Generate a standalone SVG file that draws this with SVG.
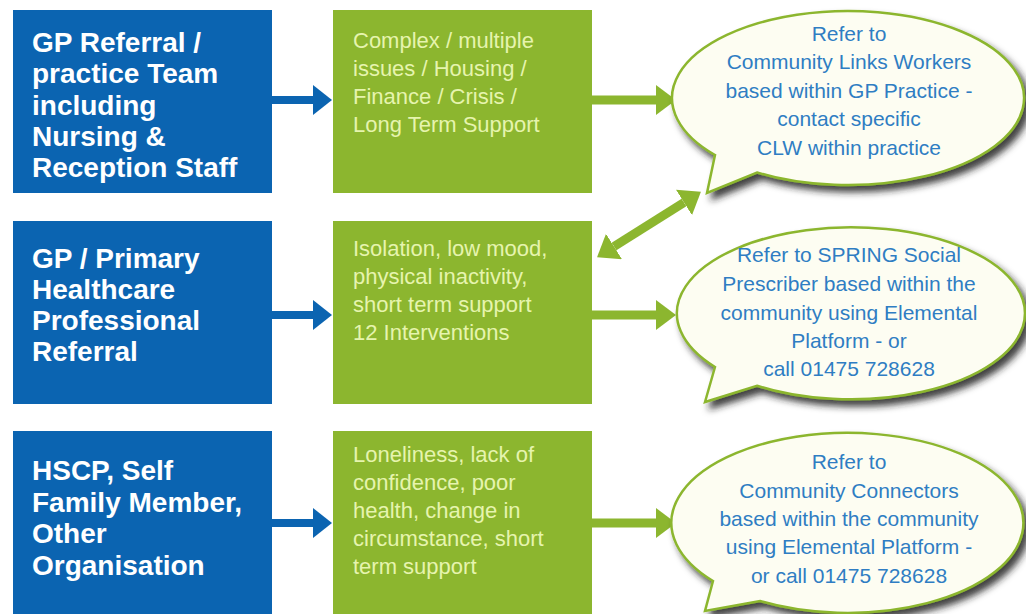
<svg xmlns="http://www.w3.org/2000/svg" width="1026" height="614" viewBox="0 0 1026 614">
<style>
.src{fill:#0b64b1}
.cat{fill:#8cb62f}
.st{font-family:"Liberation Sans",Arial,sans-serif;font-weight:bold;font-size:28px;fill:#ffffff}
.ct{font-family:"Liberation Sans",Arial,sans-serif;font-size:22px;fill:#e6f4ae}
.bub{fill:#fdfdf2;stroke:#8cb62f;stroke-width:2.5;filter:url(#sh)}
.bt{font-family:"Liberation Sans",Arial,sans-serif;font-size:21px;fill:#2f7dc3;text-anchor:middle}
.ba{stroke:#0b64b1;stroke-width:8;fill:none}
.ga{stroke:#8cb62f;stroke-width:9;fill:none}
</style>
<defs>
<filter id="sh" x="-10%" y="-10%" width="125%" height="130%">
<feDropShadow dx="5" dy="6" stdDeviation="3.5" flood-color="#1a1a1a" flood-opacity="0.85"/>
</filter>
<marker id="bh" markerUnits="userSpaceOnUse" markerWidth="19" markerHeight="30" refX="0" refY="15" orient="auto">
<path d="M0,0 L19,15 L0,30 Z" fill="#0b64b1"/>
</marker>
<marker id="gh" markerUnits="userSpaceOnUse" markerWidth="20" markerHeight="30" refX="0" refY="15" orient="auto-start-reverse">
<path d="M0,0 L20,15 L0,30 Z" fill="#8cb62f"/>
</marker>
</defs>
<rect width="1026" height="614" fill="#ffffff"/>

<g id="src1"><rect class="src" x="13" y="10" width="259" height="183"/>
<text class="st" x="32" y="52">GP Referral /</text>
<text class="st" x="32" y="83">practice Team</text>
<text class="st" x="32" y="115">including</text>
<text class="st" x="32" y="146">Nursing &amp;</text>
<text class="st" x="32" y="177">Reception Staff</text></g>

<g id="src2"><rect class="src" x="13" y="221" width="259" height="183"/>
<text class="st" x="32" y="268">GP / Primary</text>
<text class="st" x="32" y="299">Healthcare</text>
<text class="st" x="32" y="330">Professional</text>
<text class="st" x="32" y="361">Referral</text></g>

<g id="src3"><rect class="src" x="13" y="431" width="259" height="190"/>
<text class="st" x="32" y="480">HSCP, Self</text>
<text class="st" x="32" y="512">Family Member,</text>
<text class="st" x="32" y="543">Other</text>
<text class="st" x="32" y="575">Organisation</text></g>

<g id="cat1"><rect class="cat" x="333" y="10" width="259" height="183"/>
<text class="ct" x="353" y="48">Complex / multiple</text>
<text class="ct" x="353" y="76">issues / Housing /</text>
<text class="ct" x="353" y="104">Finance / Crisis  /</text>
<text class="ct" x="353" y="132">Long Term Support</text></g>

<g id="cat2"><rect class="cat" x="333" y="221" width="259" height="183"/>
<text class="ct" x="353" y="256">Isolation, low mood,</text>
<text class="ct" x="353" y="284">physical inactivity,</text>
<text class="ct" x="353" y="312">short term support</text>
<text class="ct" x="353" y="340">12 Interventions</text></g>

<g id="cat3"><rect class="cat" x="333" y="431" width="259" height="190"/>
<text class="ct" x="353" y="462">Loneliness, lack of</text>
<text class="ct" x="353" y="490">confidence, poor</text>
<text class="ct" x="353" y="518">health, change in</text>
<text class="ct" x="353" y="546">circumstance, short</text>
<text class="ct" x="353" y="574">term support</text></g>

<g id="connectors">
<line class="ba" x1="272" y1="100" x2="313" y2="100" marker-end="url(#bh)"/>
<line class="ba" x1="272" y1="315" x2="313" y2="315" marker-end="url(#bh)"/>
<line class="ba" x1="272" y1="523" x2="313" y2="523" marker-end="url(#bh)"/>
<line class="ga" x1="592" y1="100" x2="656" y2="100" marker-end="url(#gh)"/>
<line class="ga" x1="592" y1="315" x2="656" y2="315" marker-end="url(#gh)"/>
<line class="ga" x1="592" y1="523" x2="656" y2="523" marker-end="url(#gh)"/>
<line class="ga" x1="614" y1="246.5" x2="684" y2="202.5" stroke-width="8" marker-start="url(#gh)" marker-end="url(#gh)"/>
</g>

<g id="bubble1">
<path class="bub" d="M715,155 L707,193 L757,172.5 A176 87 0 1 0 715,155 Z"/>
<text class="bt" x="849" y="41">Refer to</text>
<text class="bt" x="849" y="69">Community Links Workers</text>
<text class="bt" x="849" y="98">based within GP Practice -</text>
<text class="bt" x="849" y="126">contact specific</text>
<text class="bt" x="849" y="155">CLW within practice</text></g>

<g id="bubble2">
<path class="bub" d="M715,367 L705,402 L757,385.7 A174 86 0 1 0 715,367 Z"/>
<text class="bt" x="849" y="262">Refer to SPRING Social</text>
<text class="bt" x="849" y="291">Prescriber based within the</text>
<text class="bt" x="849" y="320">community using Elemental</text>
<text class="bt" x="849" y="348">Platform - or</text>
<text class="bt" x="849" y="376">call 01475 728628</text></g>

<g id="bubble3">
<path class="bub" d="M713,581 L705,611 L760,601 A176 90 0 1 0 713,581 Z"/>
<text class="bt" x="849" y="469">Refer to</text>
<text class="bt" x="849" y="498">Community Connectors</text>
<text class="bt" x="849" y="526">based within the community</text>
<text class="bt" x="849" y="554">using Elemental Platform -</text>
<text class="bt" x="849" y="583">or call 01475 728628</text></g>
</svg>
